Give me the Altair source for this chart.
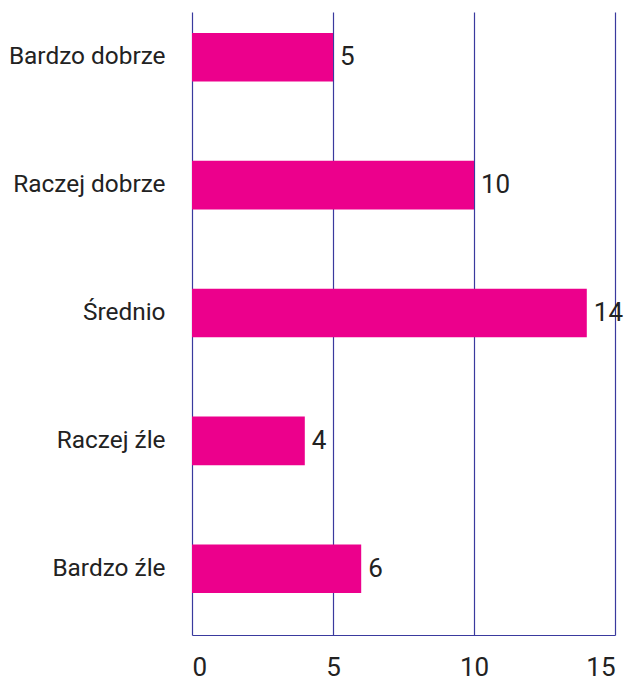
import altair as alt
import pandas as pd

categories = ["Bardzo dobrze", "Raczej dobrze", "Średnio", "Raczej źle", "Bardzo źle"]
values = [5, 10, 14, 4, 6]

df = pd.DataFrame({"cat": categories, "val": values})

FONT = "Roboto"
TXT = "#222222"
GRID = "#3a3a9e"

y_enc = alt.Y("cat:N", sort=categories, title=None,
              scale=alt.Scale(paddingInner=0.62, paddingOuter=0.246, align=0.333),
              axis=alt.Axis(labelFontSize=24.4, labelColor=TXT, labelFont=FONT,
                            labelPadding=27, ticks=False, domain=False, grid=False))
x_enc = alt.X("val:Q", title=None,
              scale=alt.Scale(domain=[0, 15], nice=False),
              axis=alt.Axis(values=[0, 5, 10, 15], labelFontSize=26, labelColor=TXT,
                            labelFont=FONT, labelPadding=19, ticks=False,
                            domain=True, domainColor=GRID, domainWidth=1.2,
                            grid=True, gridColor=GRID, gridWidth=1.2))

bars = alt.Chart(df).mark_bar(color="#EC008C").encode(x=x_enc, y=y_enc)
labels = alt.Chart(df).mark_text(align="left", baseline="middle", dx=7, fontSize=26,
                                 font=FONT, color=TXT).encode(
    x="val:Q", y=alt.Y("cat:N", sort=categories), text="val:Q")

chart = (bars + labels).properties(
    width=423, height=623,
    padding={"left": 0, "top": 4, "right": 0, "bottom": 0},
).configure_view(stroke=None)
chart.save("out.html", embed_options={"renderer": "svg", "actions": False})
